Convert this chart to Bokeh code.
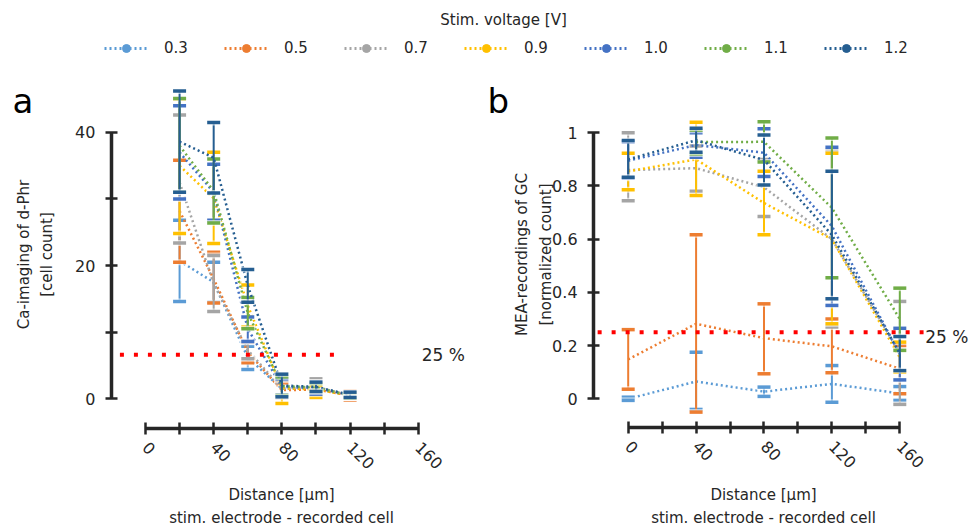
import math
import numpy as np
from bokeh.plotting import figure
from bokeh.layouts import column, row
from bokeh.models import (Range1d, FixedTicker, Label, Legend, LegendItem, LinearAxis,
                          ColumnDataSource, CustomJSTickFormatter)
from bokeh.embed import file_html
from bokeh.resources import INLINE

FONT = "DejaVu Sans"
TXT = "#262626"
AX = "#262626"

voltages = ["0.3", "0.5", "0.7", "0.9", "1.0", "1.1", "1.2"]
colors = ["#5B9BD5", "#ED7D31", "#A5A5A5", "#FFC000", "#4472C4", "#70AD47", "#255E91"]

# ---- panel a: Ca-imaging (cell count) ----
dist_a = [20, 40, 60, 80, 100, 120]
mean_a = {
    "0.3": [20.7, 17.5, 6.2, 1.5, 1.5, 0.5],
    "0.5": [28.2, 18.0, 7.0, 1.3, 1.4, 0.5],
    "0.7": [32.5, 17.3, 7.3, 1.5, 1.8, 0.5],
    "0.9": [35.0, 30.1, 14.0, 1.6, 1.4, 0.5],
    "1.0": [37.0, 31.0, 10.5, 1.8, 1.6, 0.6],
    "1.1": [38.0, 31.2, 12.9, 1.9, 1.7, 0.5],
    "1.2": [38.6, 36.2, 17.0, 2.0, 1.8, 0.6],
}
up_a = {
    "0.3": [26.8, 20.5, 7.9, 2.6, 2.4, 1.0],
    "0.5": [35.8, 22.0, 8.5, 2.4, 2.3, 1.2],
    "0.7": [42.6, 21.5, 8.6, 2.8, 3.0, 0.9],
    "0.9": [45.0, 37.0, 17.1, 3.2, 2.0, 0.9],
    "1.0": [44.0, 35.2, 12.3, 3.0, 2.5, 1.0],
    "1.1": [45.1, 36.0, 15.2, 3.3, 2.3, 0.9],
    "1.2": [46.2, 41.5, 19.4, 3.7, 2.5, 1.0],
}
lo_a = {
    "0.3": [14.6, 14.5, 4.4, 0.4, 0.6, 0.0],
    "0.5": [20.5, 14.4, 5.4, 0.2, 0.5, -0.2],
    "0.7": [23.4, 13.1, 6.0, 0.2, 0.6, 0.1],
    "0.9": [24.8, 23.3, 10.8, -0.7, 0.2, 0.1],
    "1.0": [30.0, 26.8, 8.6, 0.6, 0.7, 0.2],
    "1.1": [31.0, 26.4, 10.5, 0.5, 1.1, 0.1],
    "1.2": [31.0, 30.9, 14.5, 0.3, 1.1, 0.2],
}
thr_a_x = [-15, 115]
thr_a_y = 6.6

# ---- panel b: MEA recordings (normalized count) ----
nan = float("nan")
dist_b = [0, 40, 80, 120, 160]
mean_b = {
    "0.3": [0.0, 0.065, 0.027, 0.056, 0.02],
    "0.5": [0.148, 0.282, 0.228, 0.197, 0.113],
    "0.7": [0.86, 0.867, 0.795, 0.60, 0.172],
    "0.9": [0.855, 0.90, 0.736, 0.60, 0.155],
    "1.0": [0.895, 0.954, 0.925, 0.649, 0.168],
    "1.1": [nan, 0.965, 0.966, 0.718, 0.30],
    "1.2": [0.90, 0.972, 0.898, 0.616, 0.17],
}
up_b = {
    "0.3": [0.006, 0.175, 0.044, 0.125, 0.046],
    "0.5": [0.26, 0.617, 0.357, 0.30, 0.20],
    "0.7": [1.0, 0.95, 0.90, 0.934, 0.366],
    "0.9": [0.923, 1.04, 0.855, 0.923, 0.213],
    "1.0": [0.966, 1.0, 1.015, 0.946, 0.265],
    "1.1": [nan, 1.01, 1.042, 0.98, 0.416],
    "1.2": [0.971, 1.017, 0.992, 0.855, 0.234],
}
lo_b = {
    "0.3": [-0.006, -0.04, 0.009, -0.013, -0.006],
    "0.5": [0.036, -0.05, 0.094, 0.098, 0.019],
    "0.7": [0.745, 0.78, 0.685, 0.27, -0.021],
    "0.9": [0.786, 0.764, 0.617, 0.282, 0.10],
    "1.0": [0.829, 0.908, 0.836, 0.351, 0.071],
    "1.1": [nan, 0.92, 0.89, 0.455, 0.182],
    "1.2": [0.833, 0.927, 0.804, 0.376, 0.106],
}
thr_b_x = [-18, 174]
thr_b_y = 0.25

x_ticks = [0, 20, 40, 60, 80, 100, 120, 140, 160]
ya_ticks = [0, 10, 20, 30, 40]
yb_ticks = [0, 0.2, 0.4, 0.6, 0.8, 1.0]

x_title = ["Distance [\u00b5m]", "stim. electrode - recorded cell"]
ya_title = ["Ca-imaging of d-Phr", "[cell count]"]
yb_title = ["MEA-recordings of GC", "[normalized count]"]

PANEL_H = 458


def style_axis(ax):
    ax.axis_line_color = AX
    ax.axis_line_width = 3.5
    ax.major_tick_line_color = AX
    ax.major_tick_line_width = 2.5
    ax.major_tick_in = 6
    ax.major_tick_out = 6
    ax.minor_tick_line_color = None
    ax.major_label_text_font = FONT
    ax.major_label_text_font_size = "16px"
    ax.major_label_text_color = TXT
    ax.major_label_standoff = 10


def txt(x, y, text, size="15px", angle=0.0, align="center", baseline="middle", color=TXT):
    return Label(x=x, y=y, x_units="screen", y_units="screen", text=text, angle=angle,
                 text_font=FONT, text_font_size=size, text_color=color,
                 text_align=align, text_baseline=baseline)


def make_panel(width, xr, yr, xaxis_at, yaxis_at, yticks, yfmt, ytitle, ytitle_x,
               xtitle_x, letter, letter_x, dist, means, ups, los, thr_x, thr_y, pct_x, pct_dy):
    p = figure(width=width, height=PANEL_H, x_range=Range1d(*xr), y_range=Range1d(*yr),
               output_backend="svg", toolbar_location=None, min_border=0,
               x_axis_location=None, y_axis_location=None)
    p.outline_line_color = None
    p.grid.visible = False

    xa = LinearAxis(fixed_location=xaxis_at)
    style_axis(xa)
    xa.ticker = FixedTicker(ticks=x_ticks)
    xa.formatter = CustomJSTickFormatter(
        code="var t = Math.round(tick); return (t % 40 == 0) ? String(t) : '';")
    xa.bounds = (0, 160)
    xa.major_label_orientation = -math.pi / 4
    p.add_layout(xa, "below")

    ya = LinearAxis(fixed_location=yaxis_at)
    style_axis(ya)
    ya.ticker = FixedTicker(ticks=yticks)
    ya.formatter = CustomJSTickFormatter(code=yfmt)
    ya.bounds = (yticks[0], yticks[-1])
    p.add_layout(ya, "left")

    x = np.array(dist, dtype=float)
    for v, c in zip(voltages, colors):
        src = ColumnDataSource(dict(x=x, m=np.array(means[v], dtype=float),
                                    up=np.array(ups[v], dtype=float),
                                    lo=np.array(los[v], dtype=float)))
        p.line("x", "m", source=src, line_color=c, line_width=2.5, line_dash="2 3")
        p.segment(x0="x", y0="lo", x1="x", y1="up", source=src, line_color=c, line_width=2)
        for col in ("up", "lo"):
            p.scatter("x", col, source=src, marker="dash", size=15, line_color="white",
                      line_width=6, line_alpha=0.6)
            p.scatter("x", col, source=src, marker="dash", size=13, line_color=c,
                      line_width=3.5)

    p.line(x=thr_x, y=[thr_y, thr_y], line_color="#FF0000", line_width=4,
           line_dash="4 10")
    p.add_layout(Label(x=pct_x, y=thr_y, y_offset=pct_dy, text="25 %", text_font=FONT,
                       text_font_size="17px", text_color=TXT, text_baseline="middle"))
    # panel letter
    p.add_layout(txt(letter_x, 428, letter, size="34px", align="left",
                     baseline="alphabetic", color="#000000"))
    # axis titles
    p.add_layout(txt(xtitle_x, 34, x_title[0]))
    p.add_layout(txt(xtitle_x, 11, x_title[1]))
    p.add_layout(txt(ytitle_x[0], 274, ytitle[0], angle=math.pi / 2))
    p.add_layout(txt(ytitle_x[1], 274, ytitle[1], angle=math.pi / 2))
    return p


pa = make_panel(480, (-85.04, 196.5), (-19.47, 49.29), -4.46, -20, ya_ticks,
                "var t = Math.round(tick); return (t % 20 == 0) ? String(t) : '';",
                ya_title, (23, 46), 281, "a", 12,
                dist_a, mean_a, up_a, lo_a, thr_a_x, thr_a_y, 162, 0)
pb = make_panel(494, (-87.0, 204.0), (-0.4876, 1.2342), -0.108, -20.4, yb_ticks,
                "return tick.toFixed(1).replace(/\\.0$/, '');",
                yb_title, (41, 65), 283, "b", 7,
                dist_b, mean_b, up_b, lo_b, thr_b_x, thr_b_y, 175, -5)

# ---- legend strip ----
lf = figure(width=974, height=70, x_range=Range1d(0, 1), y_range=Range1d(0, 1),
            output_backend="svg", toolbar_location=None, min_border=0,
            x_axis_location=None, y_axis_location=None)
lf.grid.visible = False
lf.outline_line_color = None
items = []
for v, c in zip(voltages, colors):
    r1 = lf.line(x=[nan], y=[nan], line_color=c, line_width=3, line_dash="2 3")
    r2 = lf.scatter(x=[nan], y=[nan], marker="circle", size=10, fill_color=c, line_color=c)
    items.append(LegendItem(label=v, renderers=[r1, r2]))
leg = Legend(items=items, orientation="horizontal", location=(104, 12),
             glyph_width=44, glyph_height=20, label_standoff=16, label_width=27,
             spacing=33, padding=0, margin=0, border_line_color=None,
             background_fill_alpha=0, label_text_font=FONT, label_text_font_size="15px",
             label_text_color=TXT)
lf.add_layout(leg)
lf.add_layout(txt(503, 51, "Stim. voltage [V]"))

layout = column(lf, row(pa, pb))
open("out.html", "w").write(file_html(layout, INLINE))
